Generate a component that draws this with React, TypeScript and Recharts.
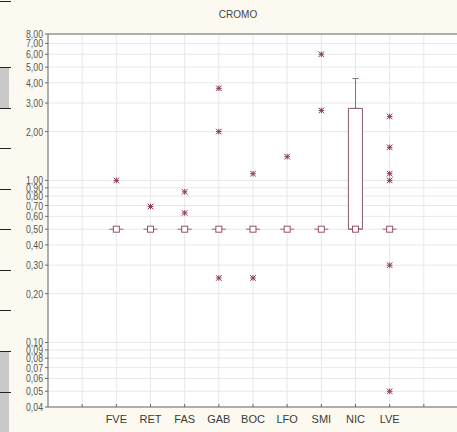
import React from "react";
import {
  ComposedChart,
  Bar,
  Scatter,
  ErrorBar,
  XAxis,
  YAxis,
  CartesianGrid,
  ReferenceLine,
} from "recharts";

// slots 1..11 on the x axis, the first and last are empty
const categories = ["", "FVE", "RET", "FAS", "GAB", "BOC", "LFO", "SMI", "NIC", "LVE", ""];
const medians = [null, 0.5, 0.5, 0.5, 0.5, 0.5, 0.5, 0.5, 0.5, 0.5, null];
const boxLow = [null, 0.5, 0.5, 0.5, 0.5, 0.5, 0.5, 0.5, 0.5, 0.5, null];
const boxHigh = [null, 0.5, 0.5, 0.5, 0.5, 0.5, 0.5, 0.5, 2.78, 0.5, null];
const whiskerHigh = [null, 0.5, 0.5, 0.5, 0.5, 0.5, 0.5, 0.5, 4.25, 0.5, null];

const outlierCats = [
  "FVE", "RET", "FAS", "FAS", "GAB", "GAB", "GAB", "BOC", "BOC",
  "LFO", "SMI", "SMI", "LVE", "LVE", "LVE", "LVE", "LVE", "LVE",
];
const outlierValues = [
  1.0, 0.69, 0.63, 0.85, 3.7, 2.0, 0.25, 1.1, 0.25,
  1.4, 6.0, 2.7, 2.48, 1.6, 1.1, 1.0, 0.3, 0.05,
];

const yTicks = [
  0.04, 0.05, 0.06, 0.07, 0.08, 0.09, 0.1, 0.2, 0.3, 0.4, 0.5, 0.6, 0.7, 0.8, 0.9,
  1, 2, 3, 4, 5, 6, 7, 8,
];
const xTicks = [1, 2, 3, 4, 5, 6, 7, 8, 9, 10, 11];

const boxRows = categories.map((name, i) => ({
  x: i + 1,
  name,
  box: medians[i] == null ? null : [boxLow[i], boxHigh[i]],
}));

const medianPoints = categories
  .map((name, i) => ({ x: i + 1, y: medians[i] }))
  .filter((p) => p.y != null);

const whiskerPoints = categories
  .map((name, i) => ({
    x: i + 1,
    y: boxHigh[i],
    err: [0, (whiskerHigh[i] ?? 0) - (boxHigh[i] ?? 0)],
  }))
  .filter((p) => p.y != null && p.err[1] > 0);

const outlierPoints = outlierCats.map((c, i) => ({
  x: categories.indexOf(c) + 1,
  y: outlierValues[i],
}));

const fmt = (v: number) => v.toFixed(2).replace(".", ",");
const FONT = "Liberation Sans, Arial, sans-serif";
const MARK = "#8c3a5c";
const AXIS = "#6a6a6a";

const MedianShape = (props: any) => {
  const { cx, cy } = props;
  if (cx == null || cy == null) return null;
  return (
    <g>
      <line x1={cx - 7} x2={cx + 7} y1={cy} y2={cy} stroke="#9a6070" strokeWidth={1} />
      <rect x={cx - 3} y={cy - 3} width={6} height={6} fill="#fff" stroke="#9a5068" strokeWidth={1} />
    </g>
  );
};

const StarShape = (props: any) => {
  const { cx, cy } = props;
  if (cx == null || cy == null) return null;
  const r = 2.8;
  return (
    <g stroke={MARK} strokeWidth={1}>
      <line x1={cx - r} x2={cx + r} y1={cy} y2={cy} />
      <line x1={cx} x2={cx} y1={cy - r} y2={cy + r} />
      <line x1={cx - r} x2={cx + r} y1={cy - r} y2={cy + r} />
      <line x1={cx - r} x2={cx + r} y1={cy + r} y2={cy - r} />
    </g>
  );
};

const NoShape = () => <g />;

const BottomTick = (props: any) => {
  const { x, y, payload } = props;
  return (
    <g>
      <line x1={x} x2={x} y1={y - 3} y2={y} stroke={AXIS} />
      <text x={x} y={y + 16} textAnchor="middle" fontSize={11} fill="#3a3a3a" fontFamily={FONT}>
        {categories[payload.value - 1] ?? ""}
      </text>
    </g>
  );
};

const TopTick = (props: any) => {
  const { x, y } = props;
  return <line x1={x} x2={x} y1={y} y2={y + 3} stroke={AXIS} />;
};

const LeftTick = (props: any) => {
  const { x, y, payload } = props;
  return (
    <g>
      <line x1={x - 3} x2={x} y1={y} y2={y} stroke={AXIS} />
      <text
        x={x - 5}
        y={y + 4}
        textAnchor="end"
        fontSize={11}
        fill="#555"
        fontFamily={FONT}
        textLength={17}
        lengthAdjust="spacingAndGlyphs"
      >
        {fmt(payload.value)}
      </text>
    </g>
  );
};

// bits of the neighbouring panels visible on the left edge
const edgeLines = [1, 67, 108, 148, 189, 229, 270, 310, 351, 392];

export default function App() {
  return (
    <div
      style={{
        position: "absolute",
        left: 0,
        top: 0,
        width: 457,
        height: 432,
        overflow: "hidden",
        background: "#fcfaf0",
      }}
    >
      <div style={{ position: "absolute", left: 0, top: 67, width: 9, height: 41, background: "#c9c9c9" }} />
      <div style={{ position: "absolute", left: 0, top: 351, width: 9, height: 81, background: "#c9c9c9" }} />
      {edgeLines.map((t) => (
        <div key={t} style={{ position: "absolute", left: 0, top: t, width: 11, height: 1, background: "#222" }} />
      ))}
      <div
        style={{
          position: "absolute",
          left: 238,
          top: 9,
          transform: "translateX(-50%)",
          fontFamily: FONT,
          fontSize: 10,
          color: "#444",
        }}
      >
        CROMO
      </div>
      <div style={{ position: "absolute", left: 0, top: 0 }}>
        <ComposedChart
          width={463}
          height={432}
          data={boxRows}
          margin={{ top: 34, right: 5, bottom: 5, left: 8 }}
        >
          <CartesianGrid stroke="#e8e8e8" fill="#ffffff" />
          <XAxis
            dataKey="x"
            type="number"
            domain={[0, 12]}
            ticks={xTicks}
            interval={0}
            height={20}
            tickSize={0}
            tickMargin={0}
            tick={<BottomTick />}
            axisLine={{ stroke: AXIS }}
            tickLine={false}
            allowDataOverflow
          />
          <XAxis
            xAxisId="top"
            orientation="top"
            dataKey="x"
            type="number"
            domain={[0, 12]}
            ticks={xTicks}
            interval={0}
            height={0}
            tickSize={0}
            tickMargin={0}
            tick={<TopTick />}
            axisLine={{ stroke: AXIS }}
            tickLine={false}
          />
          <YAxis
            scale="log"
            type="number"
            domain={[0.04, 8]}
            ticks={yTicks}
            interval={0}
            width={40}
            tickSize={0}
            tickMargin={0}
            tick={<LeftTick />}
            axisLine={{ stroke: AXIS }}
            tickLine={false}
            allowDataOverflow
          />
          <ReferenceLine y={8} stroke={AXIS} />
          <Bar
            dataKey="box"
            barSize={14}
            fill="#ffffff"
            stroke="#8a5a62"
            strokeWidth={1}
            isAnimationActive={false}
          />
          <Scatter data={whiskerPoints} dataKey="y" shape={<NoShape />} isAnimationActive={false}>
            <ErrorBar dataKey="err" direction="y" width={3} stroke="#8a7070" strokeWidth={1} />
          </Scatter>
          <Scatter data={medianPoints} dataKey="y" shape={<MedianShape />} isAnimationActive={false} />
          <Scatter data={outlierPoints} dataKey="y" shape={<StarShape />} isAnimationActive={false} />
        </ComposedChart>
      </div>
    </div>
  );
}
